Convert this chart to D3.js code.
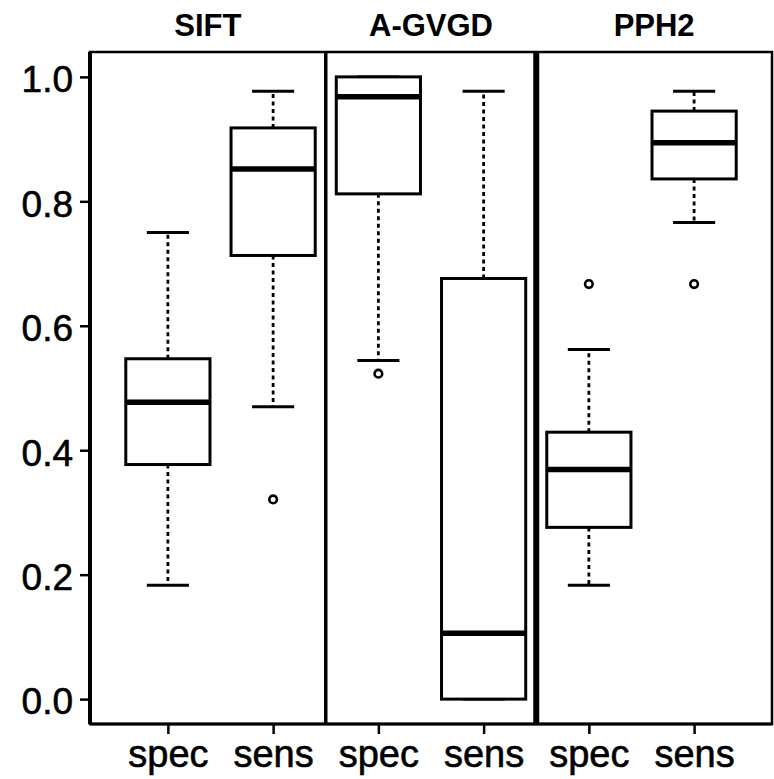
<!DOCTYPE html>
<html>
<head>
<meta charset="utf-8">
<script src="https://cdn.jsdelivr.net/npm/d3@7"></script>
<style>
  body { margin: 0; background: #fff; }
  svg { display: block; font-family: "Liberation Sans", Arial, sans-serif; }
</style>
</head>
<body>
<div id="svgcontainer"></div>
<script>
// data
var groups = ["SIFT", "A-GVGD", "PPH2"];
var categories = ["spec", "sens", "spec", "sens", "spec", "sens"];
var whiskLow = [0.183, 0.470, 0.544, 0.000, 0.183, 0.766];
var q1 = [0.377, 0.713, 0.812, 0.000, 0.276, 0.836];
var medians = [0.477, 0.852, 0.968, 0.106, 0.369, 0.894];
var q3 = [0.547, 0.918, 1.000, 0.676, 0.429, 0.945];
var whiskHigh = [0.750, 0.977, 1.000, 0.977, 0.562, 0.977];
var outliers = [[], [0.321], [0.523], [], [0.667], [0.667]];
var yTicks = [0.0, 0.2, 0.4, 0.6, 0.8, 1.0];

var margin = { top: 52, right: 2, bottom: 55, left: 90 },
    width = 774 - margin.left - margin.right,
    height = 779 - margin.top - margin.bottom;

var svg = d3.select("#svgcontainer")
    .append("svg")
    .attr("width", 774)
    .attr("height", 779)
    .append("g")
    .attr("transform", "translate(" + margin.left + "," + margin.top + ")");

// R style: xlim 0.5..6.5 and ylim 0..1, each padded 4%
var x = d3.scaleLinear().domain([0.26, 6.74]).range([0, width]);
var y = d3.scaleLinear().domain([-0.04, 1.04]).range([height, 0]);

var boxW = x(1.4) - x(1);
var capW = x(1.2) - x(1);

var data = categories.map(function(c, i) {
    return { pos: i + 1, name: c, lo: whiskLow[i], q1: q1[i], med: medians[i],
             q3: q3[i], hi: whiskHigh[i], out: outliers[i] };
});

var box = svg.append("g")
    .selectAll("g")
    .data(data)
    .join("g");

// whiskers
box.append("line")
    .attr("x1", d => x(d.pos)).attr("x2", d => x(d.pos))
    .attr("y1", d => y(d.q3)).attr("y2", d => y(d.hi))
    .attr("stroke", "#000").attr("stroke-width", 2.8).attr("stroke-dasharray", "4,3.5");
box.append("line")
    .attr("x1", d => x(d.pos)).attr("x2", d => x(d.pos))
    .attr("y1", d => y(d.q1)).attr("y2", d => y(d.lo))
    .attr("stroke", "#000").attr("stroke-width", 2.8).attr("stroke-dasharray", "4,3.5");

// caps
box.append("line")
    .attr("x1", d => x(d.pos) - capW).attr("x2", d => x(d.pos) + capW)
    .attr("y1", d => y(d.hi)).attr("y2", d => y(d.hi))
    .attr("stroke", "#000").attr("stroke-width", 3);
box.append("line")
    .attr("x1", d => x(d.pos) - capW).attr("x2", d => x(d.pos) + capW)
    .attr("y1", d => y(d.lo)).attr("y2", d => y(d.lo))
    .attr("stroke", "#000").attr("stroke-width", 3);

// boxes
box.append("rect")
    .attr("x", d => x(d.pos) - boxW)
    .attr("width", 2 * boxW)
    .attr("y", d => y(d.q3))
    .attr("height", d => y(d.q1) - y(d.q3))
    .attr("fill", "#fff")
    .attr("stroke", "#000").attr("stroke-width", 3);

// medians
box.append("line")
    .attr("x1", d => x(d.pos) - boxW).attr("x2", d => x(d.pos) + boxW)
    .attr("y1", d => y(d.med)).attr("y2", d => y(d.med))
    .attr("stroke", "#000").attr("stroke-width", 5.5);

// outliers
box.selectAll("circle")
    .data(d => d.out.map(v => ({ pos: d.pos, v: v })))
    .join("circle")
    .attr("cx", d => x(d.pos))
    .attr("cy", d => y(d.v))
    .attr("r", 3.8)
    .attr("fill", "none")
    .attr("stroke", "#000").attr("stroke-width", 2.6);

// panel separators
svg.append("line")
    .attr("x1", x(2.5)).attr("x2", x(2.5)).attr("y1", 0).attr("y2", height)
    .attr("stroke", "#000").attr("stroke-width", 3.5);
svg.append("line")
    .attr("x1", x(4.5)).attr("x2", x(4.5)).attr("y1", 0).attr("y2", height)
    .attr("stroke", "#000").attr("stroke-width", 6);

// frame
svg.append("rect")
    .attr("x", 0).attr("y", 0).attr("width", width).attr("height", height)
    .attr("fill", "none").attr("stroke", "#000").attr("stroke-width", 2.5);

// y axis
var yAxis = svg.append("g")
    .call(d3.axisLeft(y).tickValues(yTicks).tickFormat(d3.format(".1f")).tickSize(10).tickPadding(7));
yAxis.select(".domain").attr("stroke-width", 4).attr("d", "M0," + height + "V0");
yAxis.selectAll(".tick line").attr("stroke-width", 2.5);
yAxis.selectAll("text").style("font-size", "37px").attr("fill", "#000")
    .attr("stroke", "#000").attr("stroke-width", 0.6).attr("dy", "0.4em");

// x axis
var xAxis = svg.append("g")
    .attr("transform", "translate(0," + height + ")")
    .call(d3.axisBottom(x).tickValues(d3.range(1, 7)).tickFormat(i => categories[i - 1]).tickSize(10).tickPadding(6));
xAxis.select(".domain").attr("stroke-width", 3).attr("d", "M0,0H" + width);
xAxis.selectAll(".tick line").attr("stroke-width", 2.5);
xAxis.selectAll("text").style("font-size", "38px").attr("fill", "#000")
    .attr("stroke", "#000").attr("stroke-width", 0.6);

// panel titles
var panelEdges = [0.26, 2.5, 4.5, 6.74];
svg.append("g")
    .selectAll("text")
    .data(groups)
    .join("text")
    .attr("x", (d, i) => (x(panelEdges[i]) + x(panelEdges[i + 1])) / 2)
    .attr("y", -16)
    .attr("text-anchor", "middle")
    .style("font-size", "31px")
    .style("font-weight", "bold")
    .text(d => d);
</script>
</body>
</html>
